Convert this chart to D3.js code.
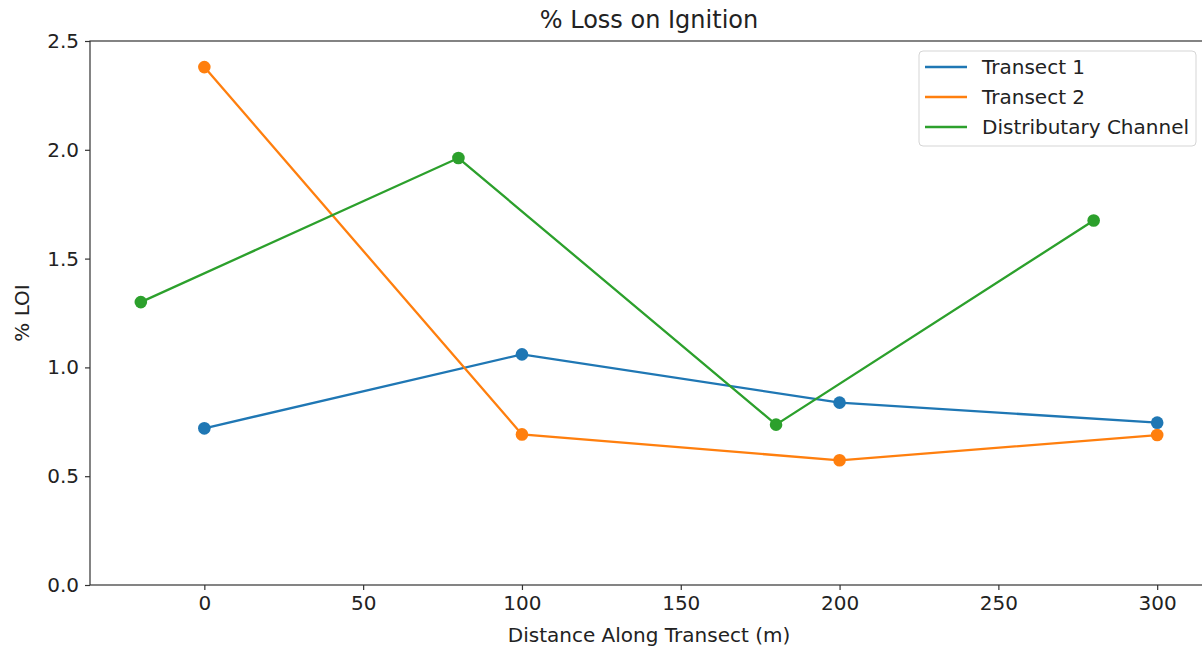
<!DOCTYPE html>
<html>
<head>
<meta charset="utf-8">
<script src="https://cdn.jsdelivr.net/npm/d3@7"></script>
<style>
	body { margin: 0; background: #fff; }
	svg { display: block; font-family: "DejaVu Sans", sans-serif; }
</style>
</head>
<body>
<svg id="chart" width="1202" height="651"></svg>
<script>
// data
var seriesNames = ["Transect 1", "Transect 2", "Distributary Channel"];
var seriesColors = ["#1f77b4", "#ff7f0e", "#2ca02c"];
var transect1X = [0, 100, 200, 300];
var transect1Y = [0.72, 1.06, 0.838, 0.746];
var transect2X = [0, 100, 200, 300];
var transect2Y = [2.38, 0.692, 0.573, 0.689];
var channelX = [-20, 80, 180, 280];
var channelY = [1.30, 1.962, 0.737, 1.675];
var xTicks = [0, 50, 100, 150, 200, 250, 300];
var yTicks = [0.0, 0.5, 1.0, 1.5, 2.0, 2.5];

var series = [
	{ name: seriesNames[0], color: seriesColors[0], pts: d3.zip(transect1X, transect1Y) },
	{ name: seriesNames[1], color: seriesColors[1], pts: d3.zip(transect2X, transect2Y) },
	{ name: seriesNames[2], color: seriesColors[2], pts: d3.zip(channelX, channelY) }
];

var svg = d3.select("#chart");
var plotLeft = 90, plotTop = 41, plotRight = 1208, plotBottom = 585;

var x = d3.scaleLinear().domain([-36, 316]).range([plotLeft, plotRight]);
var y = d3.scaleLinear().domain([0, 2.5]).range([plotBottom, plotTop]);

// title
svg.append("text")
	.attr("x", 649)
	.attr("y", 28)
	.attr("text-anchor", "middle")
	.attr("font-size", "24px")
	.attr("fill", "#222")
	.text("% Loss on Ignition");

// axes
var xAxis = svg.append("g")
	.attr("transform", "translate(0," + plotBottom + ")")
	.call(d3.axisBottom(x).tickValues(xTicks).tickFormat(d3.format("d")).tickSize(5).tickPadding(6));
var yAxis = svg.append("g")
	.attr("transform", "translate(" + plotLeft + ",0)")
	.call(d3.axisLeft(y).tickValues(yTicks).tickFormat(d3.format(".1f")).tickSize(5).tickPadding(6));

[xAxis, yAxis].forEach(function(g)
{
	g.select(".domain").remove();
	g.selectAll("line").attr("stroke", "#333").attr("stroke-width", 1.2);
	g.selectAll("text").attr("font-size", "20px").attr("fill", "#222").attr("font-family", "DejaVu Sans, sans-serif");
});

// frame
svg.append("rect")
	.attr("x", plotLeft)
	.attr("y", plotTop)
	.attr("width", plotRight - plotLeft)
	.attr("height", plotBottom - plotTop)
	.attr("fill", "none")
	.attr("stroke", "#333")
	.attr("stroke-width", 1.2);

// axis labels
svg.append("text")
	.attr("x", 649)
	.attr("y", 642)
	.attr("text-anchor", "middle")
	.attr("font-size", "20px")
	.attr("fill", "#222")
	.text("Distance Along Transect (m)");

svg.append("text")
	.attr("transform", "translate(29," + (plotTop + plotBottom) / 2 + ") rotate(-90)")
	.attr("text-anchor", "middle")
	.attr("font-size", "20px")
	.attr("fill", "#222")
	.text("% LOI");

// lines and markers
var line = d3.line()
	.x(function(d) { return x(d[0]); })
	.y(function(d) { return y(d[1]); });

var groups = svg.selectAll("g.series").data(series).enter().append("g").classed("series", 1);

groups.append("path")
	.attr("d", function(d) { return line(d.pts); })
	.attr("fill", "none")
	.attr("stroke", function(d) { return d.color; })
	.attr("stroke-width", 2.3);

groups.selectAll("circle")
	.data(function(d) { return d.pts.map(function(p) { return { p: p, color: d.color }; }); })
	.enter().append("circle")
	.attr("cx", function(d) { return x(d.p[0]); })
	.attr("cy", function(d) { return y(d.p[1]); })
	.attr("r", 6.3)
	.attr("fill", function(d) { return d.color; });

// legend
var legend = svg.append("g").attr("transform", "translate(919,51)");
legend.append("rect")
	.attr("width", 277)
	.attr("height", 95)
	.attr("rx", 4)
	.attr("fill", "#fff")
	.attr("fill-opacity", 0.8)
	.attr("stroke", "#d5d5d5")
	.attr("stroke-width", 1);

var items = legend.selectAll("g.item").data(series).enter().append("g").classed("item", 1)
	.attr("transform", function(d, i) { return "translate(0," + (16 + 30 * i) + ")"; });

items.append("line")
	.attr("x1", 6).attr("x2", 48)
	.attr("stroke", function(d) { return d.color; })
	.attr("stroke-width", 2.3);

items.append("text")
	.attr("x", 63)
	.attr("y", 7)
	.attr("font-size", "20px")
	.attr("fill", "#222")
	.text(function(d) { return d.name; });
</script>
</body>
</html>
